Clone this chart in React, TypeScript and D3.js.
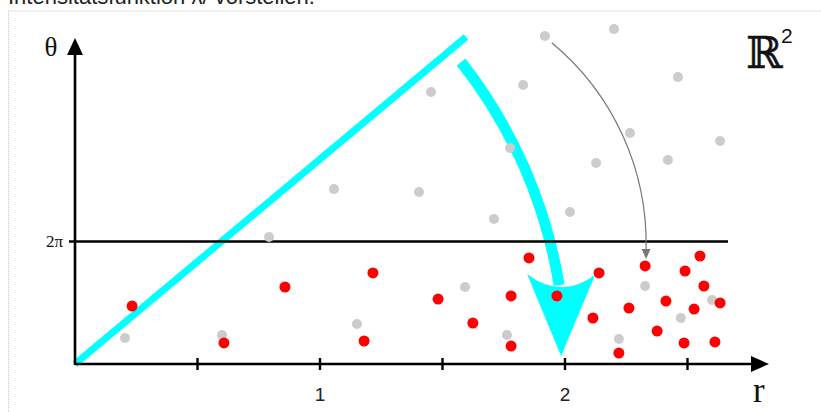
import React from "react";
import * as d3 from "d3";

// Sample points as [r, θ] (θ in radians)
const redPoints: [number, number][] = [
  [0.233, 2.97], [0.608, 1.08], [0.857, 3.95], [1.18, 1.18], [1.216, 4.67],
  [1.482, 3.33], [1.624, 2.1], [1.78, 3.49], [1.78, 0.92], [1.853, 5.44],
  [1.967, 3.49], [2.114, 2.36], [2.139, 4.67], [2.22, 0.56], [2.261, 2.87],
  [2.327, 5.03], [2.376, 1.69], [2.412, 3.23], [2.486, 1.08], [2.49, 4.77],
  [2.527, 2.82], [2.551, 5.54], [2.567, 4.0], [2.612, 1.13], [2.633, 3.13],
];

const greyPoints: [number, number][] = [
  [0.204, 1.33], [0.6, 1.49], [0.792, 6.51], [1.057, 8.98], [1.151, 2.05],
  [1.404, 8.82], [1.453, 13.95], [1.592, 3.95], [1.71, 7.44], [1.763, 1.49],
  [1.776, 11.08], [1.829, 14.31], [1.918, 16.82], [2.02, 7.8], [2.127, 10.31],
  [2.2, 17.18], [2.22, 1.28], [2.265, 11.85], [2.327, 4.0], [2.42, 10.46],
  [2.461, 14.72], [2.473, 2.36], [2.6, 3.28], [2.633, 11.44],
];

// Line through the origin that gets rotated down below 2π
const rotatedLine: [number, number][] = [[0, 0], [1.596, 16.77]];

// Big rotation arrow: shaft start, shaft end, head tip
const bigArrow: [number, number][] = [[1.576, 15.49], [1.976, 4.05], [1.984, 0.41]];
// Thin arrow moving one point below 2π: start, line end, head tip
const thinArrow: [number, number][] = [[1.946, 16.48], [2.331, 5.85], [2.331, 5.39]];

const xTickValues = [0.5, 1, 1.5, 2, 2.5];
const xTickLabels = ["", "1", "", "2", ""];
const twoPi = 2 * Math.PI;

export default function App() {
  const W = 821;
  const H = 412;
  const x = d3.scaleLinear().domain([0, 2.85]).range([75, 75 + 2.85 * 245]);
  const y = d3.scaleLinear().domain([0, twoPi]).range([364, 241.5]);
  const x0 = x(0);
  const y0 = y(0);
  const px = (p: [number, number]) => [x(p[0]), y(p[1])] as [number, number];

  const line = d3.line<[number, number]>().x((d) => x(d[0])).y((d) => y(d[1]));

  // big arrow: circular arc about the origin
  const [bs, be, bt] = bigArrow.map(px);
  const rBig = (Math.hypot(bs[0] - x0, bs[1] - y0) + Math.hypot(be[0] - x0, be[1] - y0)) / 2;
  const bigShaft = `M${bs[0]},${bs[1]} A${rBig},${rBig} 0 0 1 ${be[0]},${be[1]}`;
  const bigHead = `M${bt[0]},${bt[1]} L${bt[0] - 34},${bt[1] - 82} Q${bt[0]},${bt[1] - 56} ${bt[0] + 34},${bt[1] - 81} Z`;

  // thin arrow
  const [ts, te, tt] = thinArrow.map(px);
  const thinPath = `M${ts[0]},${ts[1]} A261,261 0 0 1 ${te[0]},${te[1]}`;
  const thinHead = `M${tt[0]},${tt[1]} L${tt[0] - 4.5},${tt[1] - 10} L${tt[0] + 4.5},${tt[1] - 10} Z`;

  const xEnd = 769;
  const yTop = 38;

  return (
    <svg
      width={W}
      height={H}
      style={{ position: "absolute", left: 0, top: 0, background: "#fff" }}
    >
      <text x={8} y={4} fontFamily="Liberation Sans, Arial, sans-serif" fontSize={22} fill="#222">
        Intensitätsfunktion λ/ vorstellen.
      </text>
      <line x1={8.5} y1={11} x2={W} y2={11} stroke="#c8c8c8" strokeWidth={1} strokeDasharray="1,1" />
      <line x1={8.5} y1={11} x2={8.5} y2={H} stroke="#c8c8c8" strokeWidth={1} strokeDasharray="1,1" />

      {/* rotated line */}
      <path d={line(rotatedLine) || ""} stroke="#00ffff" strokeWidth={7} fill="none" />

      {/* big rotation arrow */}
      <path d={bigShaft} stroke="#00ffff" strokeWidth={11} fill="none" />
      <path d={bigHead} fill="#00ffff" />

      {/* 2π level */}
      <line x1={x0 - 6} y1={y(twoPi)} x2={728} y2={y(twoPi)} stroke="#000" strokeWidth={2.4} />

      {/* axes */}
      <line x1={x0} y1={y0} x2={xEnd - 14} y2={y0} stroke="#000" strokeWidth={2.6} />
      <path d={`M${xEnd},${y0} L${xEnd - 18},${y0 - 8} L${xEnd - 18},${y0 + 8} Z`} fill="#000" />
      <line x1={x0} y1={y0 + 1} x2={x0} y2={yTop + 14} stroke="#000" strokeWidth={2.6} />
      <path d={`M${x0},${yTop} L${x0 - 8},${yTop + 17} L${x0 + 8},${yTop + 17} Z`} fill="#000" />

      {xTickValues.map((v, i) => (
        <g key={v}>
          <line x1={x(v)} y1={y0 - 6} x2={x(v)} y2={y0 + 6} stroke="#000" strokeWidth={2.4} />
          {xTickLabels[i] && (
            <text
              x={x(v)}
              y={401}
              textAnchor="middle"
              fontFamily="Liberation Sans, Arial, sans-serif"
              fontSize={19}
              fill="#222"
            >
              {xTickLabels[i]}
            </text>
          )}
        </g>
      ))}

      {/* thin arrow */}
      <path d={thinPath} stroke="#777" strokeWidth={1.2} fill="none" />
      <path d={thinHead} fill="#777" />

      {/* points */}
      {greyPoints.map((p, i) => (
        <circle key={"g" + i} cx={x(p[0])} cy={y(p[1])} r={5} fill="#cccccc" />
      ))}
      {redPoints.map((p, i) => (
        <circle key={"r" + i} cx={x(p[0])} cy={y(p[1])} r={5.5} fill="#ff0000" />
      ))}

      {/* labels */}
      <text x={51} y={56} textAnchor="middle" fontFamily="Liberation Serif, Times New Roman, serif" fontSize={27} fill="#111">
        θ
      </text>
      <text x={63} y={247} textAnchor="end" fontFamily="Liberation Serif, Times New Roman, serif" fontSize={17} fill="#111">
        2π
      </text>
      <text x={753} y={402} fontFamily="Liberation Serif, Times New Roman, serif" fontSize={35} fill="#111">
        r
      </text>
      <text x={746} y={68} fontFamily="DejaVu Serif, serif" fontSize={44} fill="#111" stroke="#111" strokeWidth={0.5}>
        ℝ
      </text>
      <text x={781} y={43} fontFamily="Liberation Sans, Arial, sans-serif" fontSize={21} fill="#111">
        2
      </text>
    </svg>
  );
}
